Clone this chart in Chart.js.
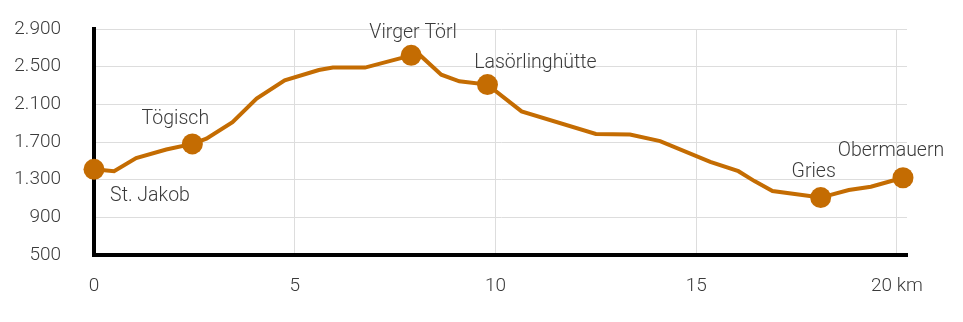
<!DOCTYPE html>
<html>
<head>
<meta charset="utf-8">
<script src="https://cdn.jsdelivr.net/npm/chart.js@4/dist/chart.umd.min.js"></script>
<style>
  body { margin: 0; background: #fff; }
</style>
</head>
<body>
<canvas id="chartProfile" width="963" height="322"></canvas>
<script>
const profileKm = [0, 0.5, 1.05, 1.8, 2.45, 2.8, 3.45, 4.05, 4.75, 5.6, 5.95, 6.75, 7.55, 7.9, 8.1, 8.65, 9.1, 9.8, 10.65, 12.5, 13.35, 14.1, 15.35, 16.05, 16.45, 16.9, 18.1, 18.8, 19.35, 20.15];
const profileElev = [1410, 1390, 1530, 1620, 1680, 1735, 1910, 2160, 2355, 2465, 2490, 2490, 2580, 2620, 2630, 2415, 2345, 2310, 2025, 1785, 1780, 1710, 1490, 1390, 1285, 1180, 1110, 1190, 1225, 1320];

const stationNames = ['St. Jakob', 'Tögisch', 'Virger Törl', 'Lasörlinghütte', 'Gries', 'Obermauern'];
const stationKm = [0, 2.45, 7.9, 9.8, 18.1, 20.15];
const stationElev = [1410, 1680, 2620, 2310, 1110, 1320];

const xTicks = [0, 5, 10, 15, 20];
const yTicks = [500, 900, 1300, 1700, 2100, 2500, 2900];

const orange = '#c46c02';
const textColor = '#3b3b3b';
const fontFamily = 'Roboto, "DejaVu Sans", sans-serif';

// label offsets from the marker centre (dx, baseline dy)
const labelOffsets = [[56, 32], [-17, -20], [2, -17], [48, -17], [-7, -21], [-12, -22]];

function fmtThousands(v) {
  return String(v).replace(/\B(?=(\d{3})+(?!\d))/g, '.');
}

const stationLabels = {
  id: 'stationLabels',
  afterDatasetsDraw(chart) {
    const ctx = chart.ctx;
    const xs = chart.scales.x;
    const ys = chart.scales.y;
    ctx.save();
    ctx.font = '300 19.5px ' + fontFamily;
    ctx.fillStyle = textColor;
    ctx.textAlign = 'center';
    ctx.textBaseline = 'alphabetic';
    stationNames.forEach((name, i) => {
      const px = xs.getPixelForValue(stationKm[i]);
      const py = ys.getPixelForValue(stationElev[i]);
      ctx.fillText(name, px + labelOffsets[i][0], py + labelOffsets[i][1]);
    });
    ctx.restore();
  },
};

const chartProfileData = {
  datasets: [
    {
      label: 'Stationen',
      data: stationKm.map((k, i) => ({ x: k, y: stationElev[i] })),
      showLine: false,
      pointRadius: 10.5,
      pointBackgroundColor: orange,
      pointBorderWidth: 0,
      clip: false,
      order: 0,
    },
    {
      label: 'Höhenprofil',
      data: profileKm.map((k, i) => ({ x: k, y: profileElev[i] })),
      showLine: true,
      borderColor: orange,
      borderWidth: 4,
      pointRadius: 0,
      tension: 0,
      fill: false,
      clip: false,
      order: 1,
    },
  ],
};

const chartProfileConfig = {
  type: 'scatter',
  data: chartProfileData,
  plugins: [stationLabels],
  options: {
    responsive: false,
    animation: false,
    events: [],
    layout: {
      padding: { top: 29, right: 56, bottom: 0, left: 0 },
    },
    plugins: {
      legend: { display: false },
      tooltip: { enabled: false },
    },
    scales: {
      x: {
        type: 'linear',
        min: 0,
        max: 20.25,
        afterFit(scale) { scale.height = 67; },
        afterBuildTicks(scale) { scale.ticks = xTicks.map(v => ({ value: v })); },
        ticks: {
          padding: 0,
          color: textColor,
          font: { family: fontFamily, size: 19, weight: 300 },
          maxRotation: 0,
          callback: v => (v === 20 ? '20 km' : String(v)),
        },
        grid: { color: '#dddddd', lineWidth: 1, tickLength: 20, tickColor: 'rgba(0,0,0,0)' },
        border: { color: '#000', width: 4 },
      },
      y: {
        min: 500,
        max: 2900,
        afterFit(scale) { scale.width = 94; },
        afterBuildTicks(scale) { scale.ticks = yTicks.map(v => ({ value: v })); },
        ticks: {
          padding: 0,
          color: textColor,
          font: { family: fontFamily, size: 19, weight: 300 },
          callback: v => fmtThousands(v),
        },
        grid: { color: '#dddddd', lineWidth: 1, tickLength: 33, tickColor: 'rgba(0,0,0,0)' },
        border: { color: '#000', width: 4 },
      },
    },
  },
};

const chartProfile = new Chart(
  document.getElementById('chartProfile'),
  chartProfileConfig
);
</script>
</body>
</html>
